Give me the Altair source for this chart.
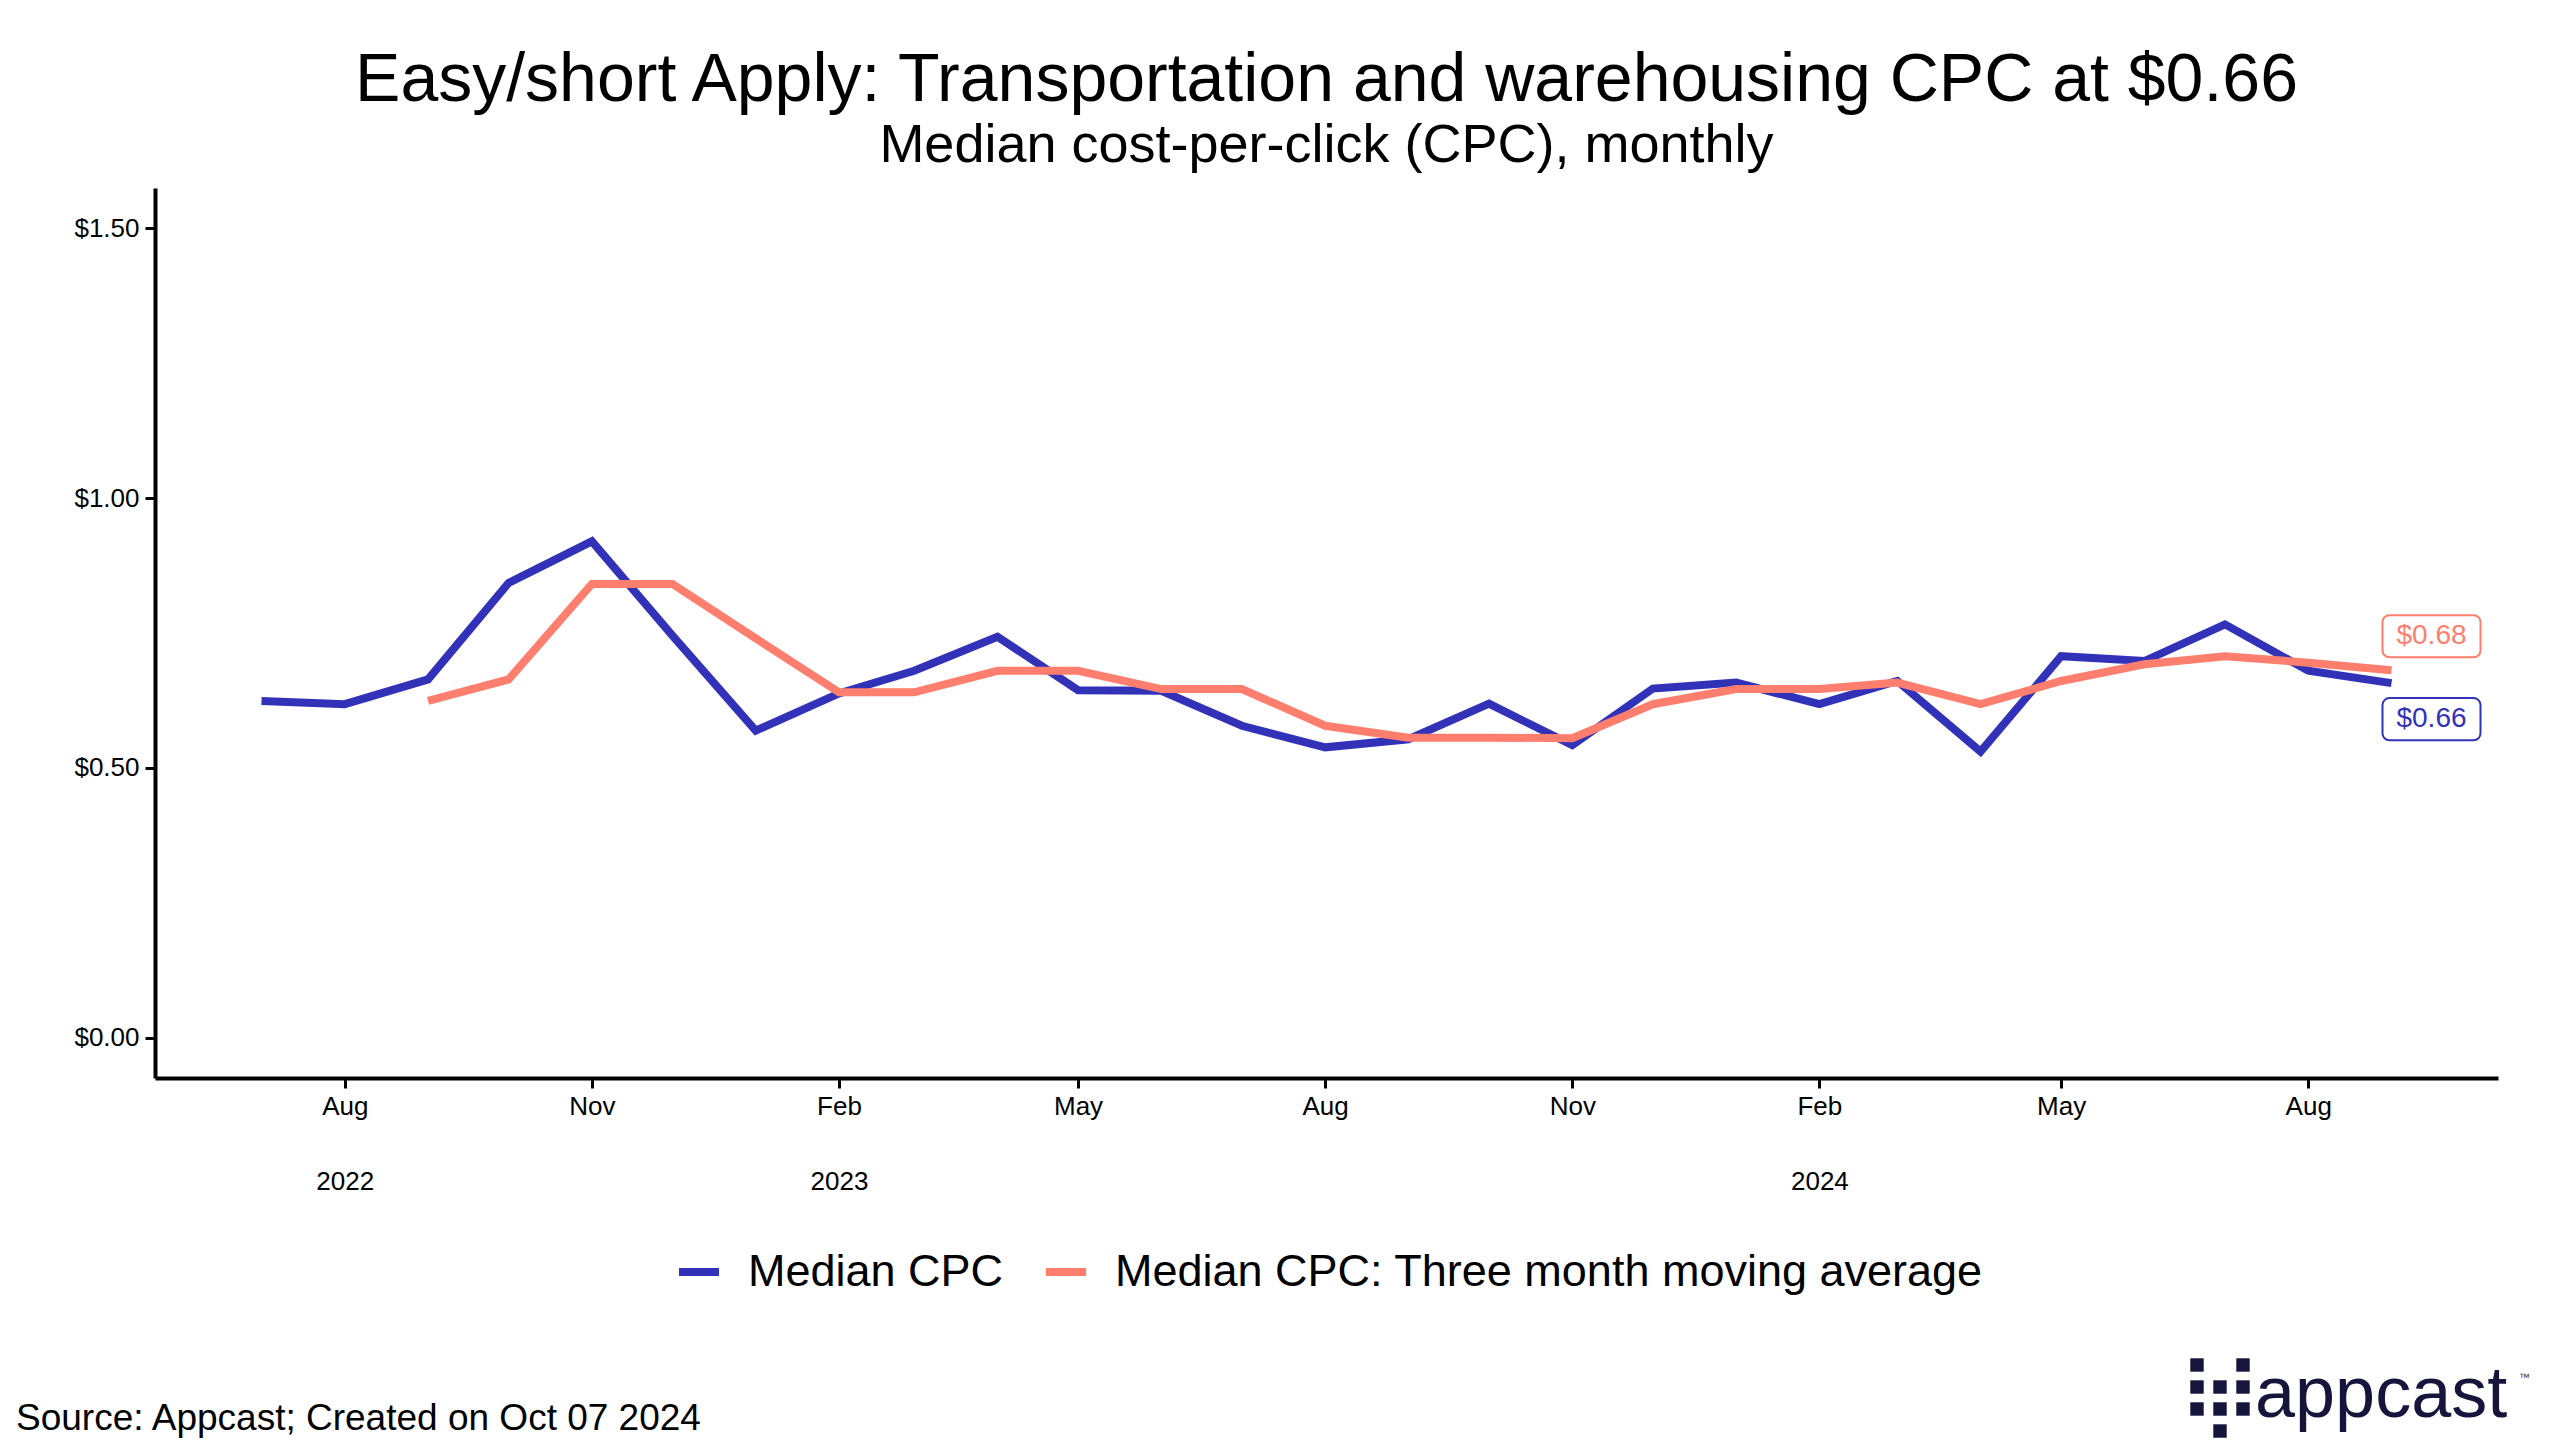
import altair as alt
import pandas as pd

# ---------------- data ----------------
months = [
    "2022-07-01", "2022-08-01", "2022-09-01", "2022-10-01", "2022-11-01", "2022-12-01",
    "2023-01-01", "2023-02-01", "2023-03-01", "2023-04-01", "2023-05-01", "2023-06-01",
    "2023-07-01", "2023-08-01", "2023-09-01", "2023-10-01", "2023-11-01", "2023-12-01",
    "2024-01-01", "2024-02-01", "2024-03-01", "2024-04-01", "2024-05-01", "2024-06-01",
    "2024-07-01", "2024-08-01", "2024-09-01",
]
median_cpc = [
    0.624, 0.618, 0.664, 0.843, 0.920, 0.745,
    0.569, 0.638, 0.680, 0.743, 0.644, 0.643,
    0.578, 0.538, 0.553, 0.619, 0.542, 0.647,
    0.658, 0.618, 0.661, 0.530, 0.707, 0.698,
    0.766, 0.680, 0.657,
]
moving_avg_months = months[2:]
moving_avg = [
    0.624, 0.664, 0.841, 0.841,
    0.740, 0.640, 0.640, 0.680, 0.680, 0.646,
    0.646, 0.578, 0.556, 0.556, 0.555, 0.618,
    0.646, 0.646, 0.658, 0.618, 0.661, 0.692,
    0.707, 0.695, 0.681,
]
series_names = ["Median CPC", "Median CPC: Three month moving average"]
series_colors = ["#3232B9", "#FF7E6E"]
tick_months = ["2022-08-01", "2022-11-01", "2023-02-01", "2023-05-01", "2023-08-01",
               "2023-11-01", "2024-02-01", "2024-05-01", "2024-08-01"]
y_ticks = [0.0, 0.5, 1.0, 1.5]

title_text = "Easy/short Apply: Transportation and warehousing CPC at $0.66"
subtitle_text = "Median cost-per-click (CPC), monthly"
source_text = "Source: Appcast; Created on Oct 07 2024"
logo_text = "appcast"
logo_cells = [(0, 0), (0, 1), (0, 2), (1, 1), (1, 2), (1, 3), (2, 0), (2, 1), (2, 2)]

FONT = "Liberation Sans"
NAVY = "#16163C"

# ---------------- tables ----------------
rows = [{"month": m, "value": v, "series": series_names[0]} for m, v in zip(months, median_cpc)]
rows += [{"month": m, "value": v, "series": series_names[1]} for m, v in zip(moving_avg_months, moving_avg)]
df = pd.DataFrame(rows)

start = pd.Timestamp(months[0])
end = pd.Timestamp(months[-1])
span = end - start
x_domain = [int((start - span * 0.05).value // 10**6), int((end + span * 0.05).value // 10**6)]
tick_vals = [int(pd.Timestamp(t).value // 10**6) for t in tick_months]

y_scale = alt.Scale(domain=[-0.075, 1.575], nice=False, zero=False)
x_scale = alt.Scale(type="utc", domain=x_domain, nice=False)

x_axis = alt.Axis(
    values=tick_vals,
    labelExpr="[utcFormat(datum.value, '%b'), (utcmonth(datum.value) == 1 || utcFormat(datum.value, '%Y-%m') == '2022-08') ? utcFormat(datum.value, '%Y') : '']",
    title=None, grid=False, labelOverlap=False, labelBound=False, labelFlush=False,
    domainColor="black", domainWidth=4, tickColor="black", tickWidth=3, tickSize=10,
    labelFont=FONT, labelFontSize=26, labelColor="black", labelPadding=5, labelLineHeight=75,
)
y_axis = alt.Axis(
    values=y_ticks, format="$.2f", title=None, grid=False,
    domainColor="black", domainWidth=4, tickColor="black", tickWidth=3, tickSize=10,
    labelFont=FONT, labelFontSize=26, labelColor="black", labelPadding=6,
)

lines = alt.Chart(df).mark_line(strokeWidth=8, strokeJoin="miter").encode(
    x=alt.X("month:T", scale=x_scale, axis=x_axis),
    y=alt.Y("value:Q", scale=y_scale, axis=y_axis),
    color=alt.Color(
        "series:N",
        scale=alt.Scale(domain=series_names, range=series_colors),
        legend=alt.Legend(
            orient="none", legendX=520, legendY=1060, direction="horizontal", title=None,
            labelFont=FONT, labelFontSize=45, labelColor="black", labelLimit=3000,
            symbolType="stroke", symbolSize=1600, symbolStrokeWidth=8,
            labelOffset=25, columnPadding=26,
        ),
    ),
    detail="series:N",
)

box_path = ("M-0.86,-0.43 L0.86,-0.43 A0.14,0.14 0 0 1 1,-0.29 L1,0.29 "
            "A0.14,0.14 0 0 1 0.86,0.43 L-0.86,0.43 A0.14,0.14 0 0 1 -1,0.29 "
            "L-1,-0.29 A0.14,0.14 0 0 1 -0.86,-0.43 Z")

label_layers = []
last_vals = [median_cpc[-1], moving_avg[-1]]
y_offs = [36, -34]
for name, col, val, yo in zip(series_names, series_colors, last_vals, y_offs):
    ldf = pd.DataFrame({"month": [months[-1]], "value": [val], "text": [f"${val:.2f}"]})
    box = alt.Chart(ldf).mark_point(
        shape=box_path, size=9604, fill="white", stroke=col, strokeWidth=2,
        opacity=1, fillOpacity=1, xOffset=40, yOffset=yo,
    ).encode(x=alt.X("month:T", scale=x_scale), y=alt.Y("value:Q", scale=y_scale))
    txt = alt.Chart(ldf).mark_text(
        font=FONT, fontSize=28, color=col, dx=40, dy=yo, align="center", baseline="middle",
    ).encode(x=alt.X("month:T", scale=x_scale), y=alt.Y("value:Q", scale=y_scale), text="text:N")
    label_layers += [box, txt]

src = alt.Chart(pd.DataFrame({"t": [source_text]})).mark_text(
    font=FONT, fontSize=37, color="black", align="left", baseline="alphabetic",
).encode(x=alt.value(-139), y=alt.value(1242), text="t:N")

logo = alt.Chart(pd.DataFrame({"t": [logo_text]})).mark_text(
    font=FONT, fontSize=72, color=NAVY, align="left", baseline="alphabetic",
).encode(x=alt.value(2100), y=alt.value(1229), text="t:N")
tm = alt.Chart(pd.DataFrame({"t": ["™"]})).mark_text(
    font=FONT, fontSize=11, color=NAVY, align="left", baseline="alphabetic",
).encode(x=alt.value(2364), y=alt.value(1193), text="t:N")

squares = []
for c, r in logo_cells:
    squares.append(
        alt.Chart(pd.DataFrame({"c": [c], "r": [r]})).mark_square(
            size=180, color=NAVY, opacity=1, filled=True,
            xOffset=c * 23, yOffset=r * 22,
        ).encode(x=alt.value(2042), y=alt.value(1177))
    )

chart = alt.layer(lines, *label_layers, src, logo, tm, *squares).properties(
    width=2343, height=890,
    autosize="none",
    background="white",
    padding={"left": 147, "top": 180, "right": 50, "bottom": 365},
    title=alt.TitleParams(
        text=title_text, subtitle=subtitle_text,
        font=FONT, fontSize=68, fontWeight="normal", color="black",
        subtitleFont=FONT, subtitleFontSize=54, subtitleColor="black",
        anchor="middle", frame="group", offset=15, subtitlePadding=4,
    ),
).configure_view(strokeWidth=0, stroke="transparent")

chart.save("out.html", embed_options={"renderer": "svg", "actions": False})
